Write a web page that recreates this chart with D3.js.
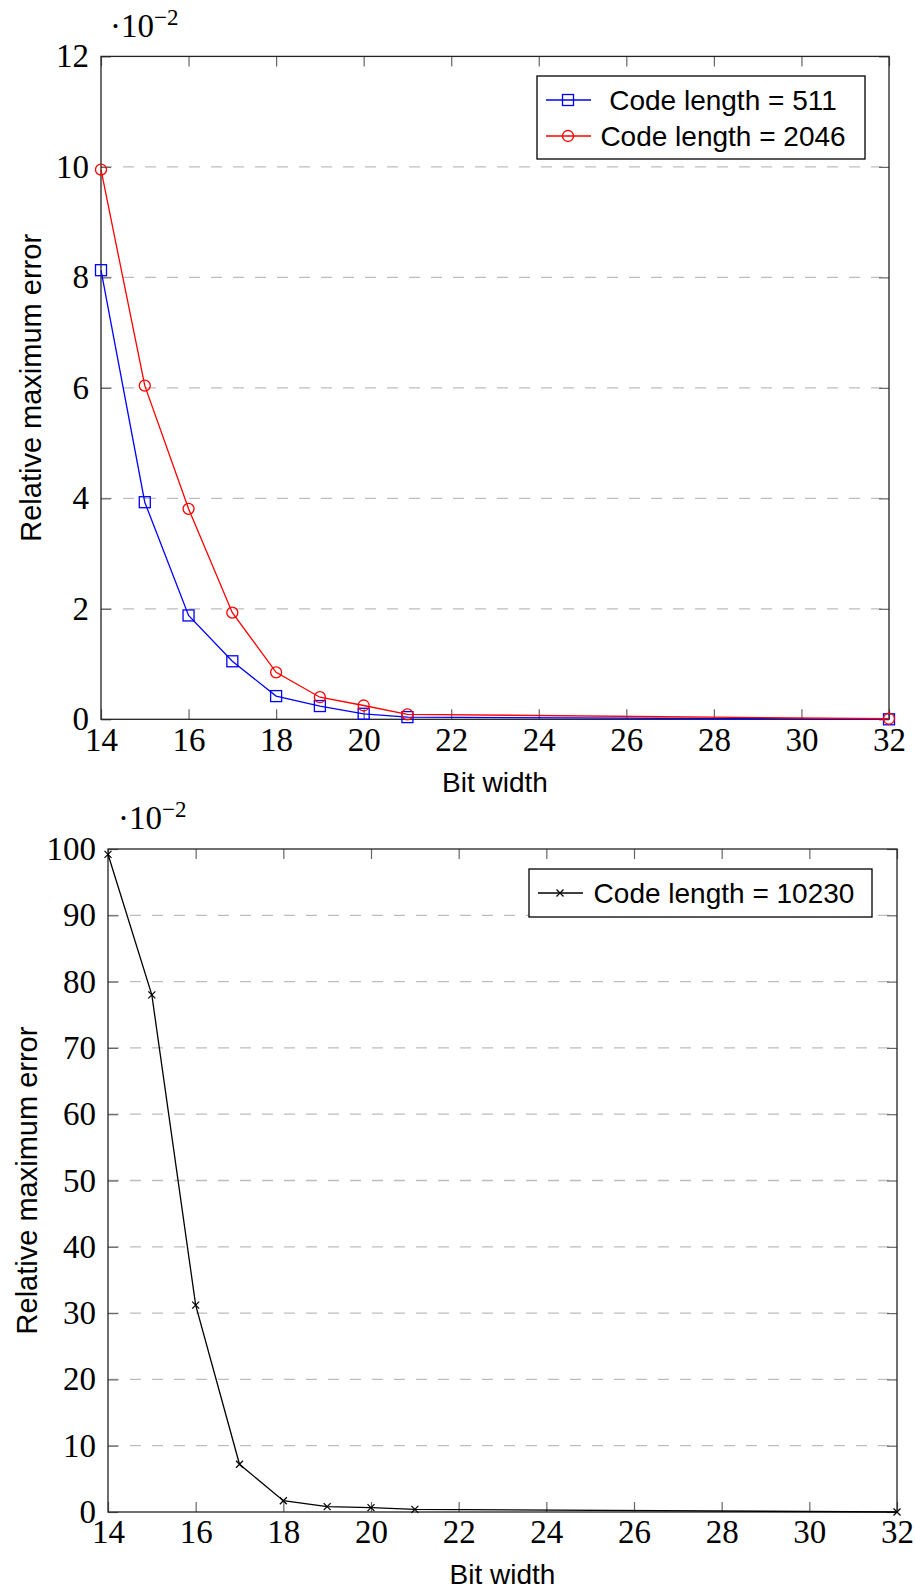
<!DOCTYPE html>
<html>
<head>
<meta charset="utf-8">
<script src="https://cdn.jsdelivr.net/npm/d3@7"></script>
<style>
	body { margin: 0; background: #fff; }
	svg { display: block; }
	.tick text { font-family: "Liberation Serif", "Times New Roman", serif; font-size: 33px; fill: #000; }
	.label, .legend text { font-family: "Liberation Sans", Arial, sans-serif; font-size: 28px; fill: #000; }
	.ylabel { font-size: 29px; }
	.exponent { font-family: "Liberation Serif", serif; fill: #000; }
</style>
</head>
<body>
<div id="chart"></div>
<script>
//values, all in units of 10^-2
var bitWidths = [14, 15, 16, 17, 18, 19, 20, 21, 32];
var err511 = [8.13, 3.93, 1.88, 1.05, 0.42, 0.24, 0.10, 0.04, 0.00];
var err2046 = [9.95, 6.04, 3.81, 1.93, 0.85, 0.40, 0.25, 0.09, 0.01];
var err10230 = [99.2, 78.0, 31.2, 7.2, 1.7, 0.8, 0.65, 0.4, 0.0];

var xTicks = [14, 16, 18, 20, 22, 24, 26, 28, 30, 32];
var yTicksTop = [0, 2, 4, 6, 8, 10, 12];
var yTicksBottom = [0, 10, 20, 30, 40, 50, 60, 70, 80, 90, 100];

var seriesTop = [
	{name: "Code length = 511", values: err511, color: "#0000ff", mark: "square"},
	{name: "Code length = 2046", values: err2046, color: "#ff0000", mark: "circle"}
];
var seriesBottom = [
	{name: "Code length = 10230", values: err10230, color: "#000000", mark: "cross"}
];

var svg = d3.select("#chart").append("svg")
	.attr("width", 915)
	.attr("height", 1589);

function drawMark(g, type, cx, cy, color) {
	if (type == "square") {
		g.append("rect")
			.attr("x", cx - 5.5).attr("y", cy - 5.5)
			.attr("width", 11).attr("height", 11)
			.attr("fill", "none").attr("stroke", color).attr("stroke-width", 1.3);
	} else if (type == "circle") {
		g.append("circle")
			.attr("cx", cx).attr("cy", cy).attr("r", 5.5)
			.attr("fill", "none").attr("stroke", color).attr("stroke-width", 1.3);
	} else {
		g.append("path")
			.attr("d", "M" + (cx - 3.5) + "," + (cy - 3.5) + "L" + (cx + 3.5) + "," + (cy + 3.5) +
				"M" + (cx - 3.5) + "," + (cy + 3.5) + "L" + (cx + 3.5) + "," + (cy - 3.5))
			.attr("fill", "none").attr("stroke", color).attr("stroke-width", 1.2);
	}
}

function drawChart(opt) {
	var x = d3.scaleLinear().domain([14, 32]).range([opt.left, opt.right]);
	var y = d3.scaleLinear().domain([0, opt.yMax]).range([opt.bottom, opt.top]);
	var g = svg.append("g");

	// dashed y gridlines (not on the frame itself)
	g.append("g")
		.selectAll("line")
		.data(opt.yTicks.filter(function(d) { return d > 0 && d < opt.yMax; }))
		.join("line")
		.attr("x1", opt.left).attr("x2", opt.right)
		.attr("y1", function(d) { return y(d); })
		.attr("y2", function(d) { return y(d); })
		.attr("stroke", "#bdbdbd")
		.attr("stroke-width", 1.3)
		.attr("stroke-dasharray", "11,11");

	// inward ticks on all four sides, labels on bottom and left
	var xb = g.append("g")
		.attr("transform", "translate(0," + opt.bottom + ")")
		.call(d3.axisBottom(x).tickValues(xTicks).tickSize(-10).tickSizeOuter(0).tickPadding(8));
	var xt = g.append("g")
		.attr("transform", "translate(0," + opt.top + ")")
		.call(d3.axisTop(x).tickValues(xTicks).tickSize(-10).tickSizeOuter(0).tickFormat(""));
	var yl = g.append("g")
		.attr("transform", "translate(" + opt.left + ",0)")
		.call(d3.axisLeft(y).tickValues(opt.yTicks).tickSize(-10).tickSizeOuter(0).tickPadding(12));
	var yr = g.append("g")
		.attr("transform", "translate(" + opt.right + ",0)")
		.call(d3.axisRight(y).tickValues(opt.yTicks).tickSize(-10).tickSizeOuter(0).tickFormat(""));
	[xb, xt, yl, yr].forEach(function(a) {
		a.select(".domain").remove();
		a.selectAll(".tick line").attr("stroke", "#666").attr("stroke-width", 1.2);
		a.attr("font-family", null).attr("font-size", null);
	});

	g.append("rect")
		.attr("x", opt.left).attr("y", opt.top)
		.attr("width", opt.right - opt.left).attr("height", opt.bottom - opt.top)
		.attr("fill", "none").attr("stroke", "#222").attr("stroke-width", 1.3);

	// series lines and marks
	var line = d3.line()
		.x(function(d, i) { return x(bitWidths[i]); })
		.y(function(d) { return y(d); });

	opt.series.forEach(function(s) {
		g.append("path")
			.datum(s.values)
			.attr("d", line)
			.attr("fill", "none")
			.attr("stroke", s.color)
			.attr("stroke-width", 1.3);
		s.values.forEach(function(v, i) {
			drawMark(g, s.mark, x(bitWidths[i]), y(v), s.color);
		});
	});

	// axis labels
	g.append("text")
		.attr("class", "label")
		.attr("text-anchor", "middle")
		.attr("x", (opt.left + opt.right) / 2)
		.attr("y", opt.xLabelY)
		.text("Bit width");

	g.append("text")
		.attr("class", "label ylabel")
		.attr("text-anchor", "middle")
		.attr("transform", "translate(" + opt.yLabelX + "," + (opt.top + opt.bottom) / 2 + ") rotate(-90)")
		.text("Relative maximum error");

	var ex = g.append("text")
		.attr("class", "exponent")
		.attr("x", opt.expX)
		.attr("y", opt.expY);
	ex.append("tspan").attr("font-size", 33).text("\u00b710");
	ex.append("tspan").attr("font-size", 23).attr("dy", -12).text("\u22122");

	// legend
	var lg = g.append("g").attr("class", "legend");
	var L = opt.legend;
	lg.append("rect")
		.attr("x", L.x).attr("y", L.y)
		.attr("width", L.w).attr("height", L.h)
		.attr("fill", "#fff").attr("stroke", "#000").attr("stroke-width", 1.3);
	opt.series.forEach(function(s, i) {
		var ry = L.y + L.pad + i * L.row;
		lg.append("line")
			.attr("x1", L.x + 9).attr("x2", L.x + 54)
			.attr("y1", ry).attr("y2", ry)
			.attr("stroke", s.color).attr("stroke-width", 1.3);
		drawMark(lg, s.mark, L.x + 31, ry, s.color);
		lg.append("text")
			.attr("text-anchor", "middle")
			.attr("x", L.x + L.textX)
			.attr("y", ry + 10)
			.text(s.name);
	});
}

drawChart({
	left: 101, right: 889, top: 56.4, bottom: 719.3,
	yMax: 12, yTicks: yTicksTop, series: seriesTop,
	xLabelY: 792, yLabelX: 41, expX: 110, expY: 37,
	legend: {x: 537, y: 76, w: 328, h: 83, pad: 24, row: 36, textX: 186}
});

drawChart({
	left: 108, right: 897, top: 849, bottom: 1512,
	yMax: 100, yTicks: yTicksBottom, series: seriesBottom,
	xLabelY: 1584, yLabelX: 37, expX: 118, expY: 829,
	legend: {x: 529, y: 869, w: 343, h: 48, pad: 24, row: 36, textX: 195}
});
</script>
</body>
</html>
